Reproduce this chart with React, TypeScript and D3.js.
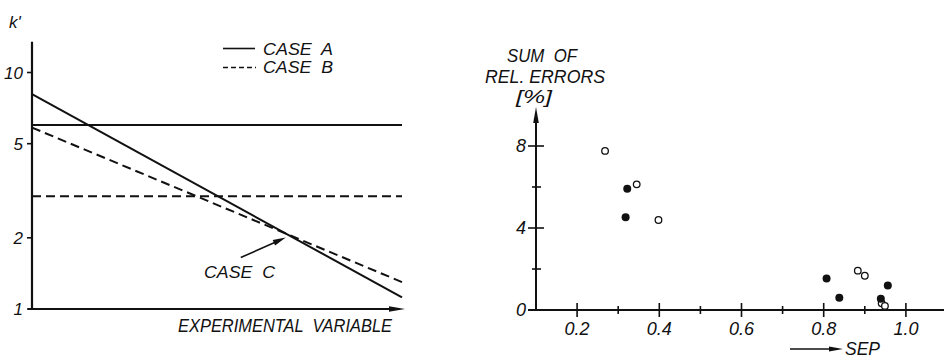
import React from "react";
import * as d3 from "d3";

// ---- Left panel: k' versus experimental variable (log scale) ----
const caseAFlat = [
  { x: 0, k: 6.0 },
  { x: 1, k: 6.0 },
];
const caseASloped = [
  { x: 0, k: 8.1 },
  { x: 1, k: 1.12 },
];
const caseBFlat = [
  { x: 0, k: 3.0 },
  { x: 1, k: 3.0 },
];
const caseBSloped = [
  { x: 0, k: 5.85 },
  { x: 1, k: 1.3 },
];
const kTicks = [1, 2, 5, 10];
const kTickLabels = ["1", "2", "5", "10"];

// ---- Right panel: sum of relative errors versus SEP ----
const openSep = [0.268, 0.345, 0.398, 0.883, 0.9, 0.941, 0.949];
const openErr = [7.76, 6.13, 4.39, 1.92, 1.67, 0.33, 0.2];
const filledSep = [0.322, 0.318, 0.807, 0.838, 0.956, 0.939];
const filledErr = [5.92, 4.52, 1.54, 0.6, 1.19, 0.55];
const sepMajor = [0.2, 0.4, 0.6, 0.8, 1.0];
const sepMajorLabels = ["0.2", "0.4", "0.6", "0.8", "1.0"];
const sepMinor = [0.3, 0.5, 0.7, 0.9];
const errMajor = [0, 4, 8];
const errMajorLabels = ["0", "4", "8"];
const errMinor = [2, 6];

const FONT = "'Liberation Sans', Arial, sans-serif";
const INK = "#111";

export default function App() {
  // scales
  const xL = d3.scaleLinear().domain([0, 1]).range([32, 402]);
  const yL = d3.scaleLog().domain([1, 10]).range([309, 72.5]);
  const xR = d3.scaleLinear().domain([0.1, 1.1]).range([536, 947]);
  const yR = d3.scaleLinear().domain([0, 10]).range([310, 105]);

  const lineL = d3
    .line<{ x: number; k: number }>()
    .x((d) => xL(d.x))
    .y((d) => yL(d.k));

  // crossing of the two sloped lines (CASE C), in log space
  const la0 = Math.log10(caseASloped[0].k);
  const la1 = Math.log10(caseASloped[1].k);
  const lb0 = Math.log10(caseBSloped[0].k);
  const lb1 = Math.log10(caseBSloped[1].k);
  const tCross = (lb0 - la0) / (la1 - la0 - (lb1 - lb0));
  const kCross = Math.pow(10, la0 + tCross * (la1 - la0));
  const tipX = xL(tCross);
  const tipY = yL(kCross) + 4;
  const tailX = tipX - 45;
  const tailY = tipY + 20;

  const arrowHead = (tx: number, ty: number, fx: number, fy: number, len: number, half: number) => {
    const ang = Math.atan2(ty - fy, tx - fx);
    const bx = tx - len * Math.cos(ang);
    const by = ty - len * Math.sin(ang);
    const px = -Math.sin(ang) * half;
    const py = Math.cos(ang) * half;
    return `M${tx},${ty}L${bx + px},${by + py}L${bx - px},${by - py}Z`;
  };

  const leftAxisTop = yL(13.5);
  const rightAxisTop = yR(9.9);

  const textStyle = {
    fontFamily: FONT,
    fontStyle: "italic" as const,
    fill: INK,
    whiteSpace: "pre" as const,
  };

  return (
    <svg
      width={944}
      height={358}
      viewBox="0 0 944 358"
      style={{ position: "absolute", left: 0, top: 0, background: "#fff" }}
    >
      {/* ===== Left panel ===== */}
      <g>
        {/* y axis */}
        <line x1={xL(0)} y1={yL(1) + 1} x2={xL(0)} y2={leftAxisTop} stroke={INK} strokeWidth={2.2} />
        {kTicks.map((t, i) => (
          <g key={"kt" + t}>
            <line x1={xL(0) - 5} x2={xL(0)} y1={yL(t)} y2={yL(t)} stroke={INK} strokeWidth={1.6} />
            <text x={23} y={yL(t) + 6} textAnchor="end" fontSize={17} style={textStyle}>
              {kTickLabels[i]}
            </text>
          </g>
        ))}
        <text x={9} y={28} fontSize={17} style={textStyle}>
          k'
        </text>

        {/* x axis with arrow */}
        <line x1={xL(0) - 4} y1={yL(1)} x2={392} y2={yL(1)} stroke={INK} strokeWidth={2.2} />
        <path d={arrowHead(405, yL(1), 380, yL(1), 16, 2.8)} fill={INK} />
        <text
          x={178}
          y={332}
          fontSize={18}
          textLength={214}
          lengthAdjust="spacingAndGlyphs"
          style={textStyle}
        >
          EXPERIMENTAL  VARIABLE
        </text>

        {/* Case A lines */}
        <path d={lineL(caseAFlat) || ""} fill="none" stroke={INK} strokeWidth={2} />
        <path d={lineL(caseASloped) || ""} fill="none" stroke={INK} strokeWidth={2} />
        {/* Case B lines */}
        <path
          d={lineL(caseBFlat) || ""}
          fill="none"
          stroke={INK}
          strokeWidth={2}
          strokeDasharray="9 5"
        />
        <path
          d={lineL(caseBSloped) || ""}
          fill="none"
          stroke={INK}
          strokeWidth={2}
          strokeDasharray="9 5"
        />

        {/* legend */}
        <line x1={223} x2={255} y1={48.5} y2={48.5} stroke={INK} strokeWidth={1.6} />
        <text x={263} y={55} fontSize={17} textLength={70} lengthAdjust="spacingAndGlyphs" style={textStyle}>
          CASE  A
        </text>
        <line
          x1={223}
          x2={256}
          y1={67.5}
          y2={67.5}
          stroke={INK}
          strokeWidth={1.6}
          strokeDasharray="5 3"
        />
        <text x={263} y={73} fontSize={17} textLength={70} lengthAdjust="spacingAndGlyphs" style={textStyle}>
          CASE  B
        </text>

        {/* CASE C annotation */}
        <line x1={tailX} y1={tailY} x2={tipX - 10} y2={tipY + 4.5} stroke={INK} strokeWidth={1.6} />
        <path d={arrowHead(tipX, tipY, tailX, tailY, 13, 3)} fill={INK} />
        <text x={204} y={278} fontSize={17} textLength={71} lengthAdjust="spacingAndGlyphs" style={textStyle}>
          CASE  C
        </text>
      </g>

      {/* ===== Right panel ===== */}
      <g>
        {/* y axis with arrow */}
        <line x1={xR(0.1)} y1={yR(0)} x2={xR(0.1)} y2={rightAxisTop + 12} stroke={INK} strokeWidth={2} />
        <path d={arrowHead(xR(0.1), rightAxisTop, xR(0.1), yR(0), 16, 2.8)} fill={INK} />
        {errMajor.map((t, i) => (
          <g key={"em" + t}>
            <line x1={xR(0.1) - 8} x2={xR(0.1) + 8} y1={yR(t)} y2={yR(t)} stroke={INK} strokeWidth={1.6} />
            <text x={526} y={yR(t) + 6} textAnchor="end" fontSize={18} style={textStyle}>
              {errMajorLabels[i]}
            </text>
          </g>
        ))}
        {errMinor.map((t) => (
          <line
            key={"en" + t}
            x1={xR(0.1) - 4}
            x2={xR(0.1) + 5}
            y1={yR(t)}
            y2={yR(t)}
            stroke={INK}
            strokeWidth={1.6}
          />
        ))}
        <g textAnchor="middle" fontSize={18}>
          <text x={542} y={62} textLength={70} lengthAdjust="spacingAndGlyphs" style={textStyle}>
            SUM  OF
          </text>
          <text x={545} y={83} textLength={120} lengthAdjust="spacingAndGlyphs" style={textStyle}>
            REL. ERRORS
          </text>
          <text x={534} y={103} textLength={36} lengthAdjust="spacingAndGlyphs" style={textStyle}>
            [%]
          </text>
        </g>

        {/* x axis */}
        <line x1={528} x2={944} y1={yR(0)} y2={yR(0)} stroke={INK} strokeWidth={2} />
        {sepMajor.map((t, i) => (
          <g key={"sm" + t}>
            <line x1={xR(t)} x2={xR(t)} y1={yR(0) - 7} y2={yR(0) + 7} stroke={INK} strokeWidth={1.6} />
            <text x={xR(t)} y={335} textAnchor="middle" fontSize={18} style={textStyle}>
              {sepMajorLabels[i]}
            </text>
          </g>
        ))}
        {sepMinor.map((t) => (
          <line
            key={"sn" + t}
            x1={xR(t)}
            x2={xR(t)}
            y1={yR(0) - 4}
            y2={yR(0) + 4}
            stroke={INK}
            strokeWidth={1.6}
          />
        ))}
        {/* SEP label with arrow */}
        <line x1={790} x2={832} y1={349} y2={349} stroke={INK} strokeWidth={1.6} />
        <path d={arrowHead(843, 349, 790, 349, 14, 2.5)} fill={INK} />
        <text x={845} y={355} fontSize={18} textLength={35} lengthAdjust="spacingAndGlyphs" style={textStyle}>
          SEP
        </text>

        {/* data points */}
        {openSep.map((s, i) => (
          <circle
            key={"o" + i}
            cx={xR(s)}
            cy={yR(openErr[i])}
            r={3.3}
            fill="#fff"
            stroke={INK}
            strokeWidth={1.3}
          />
        ))}
        {filledSep.map((s, i) => (
          <circle key={"f" + i} cx={xR(s)} cy={yR(filledErr[i])} r={4} fill={INK} />
        ))}
      </g>
    </svg>
  );
}
